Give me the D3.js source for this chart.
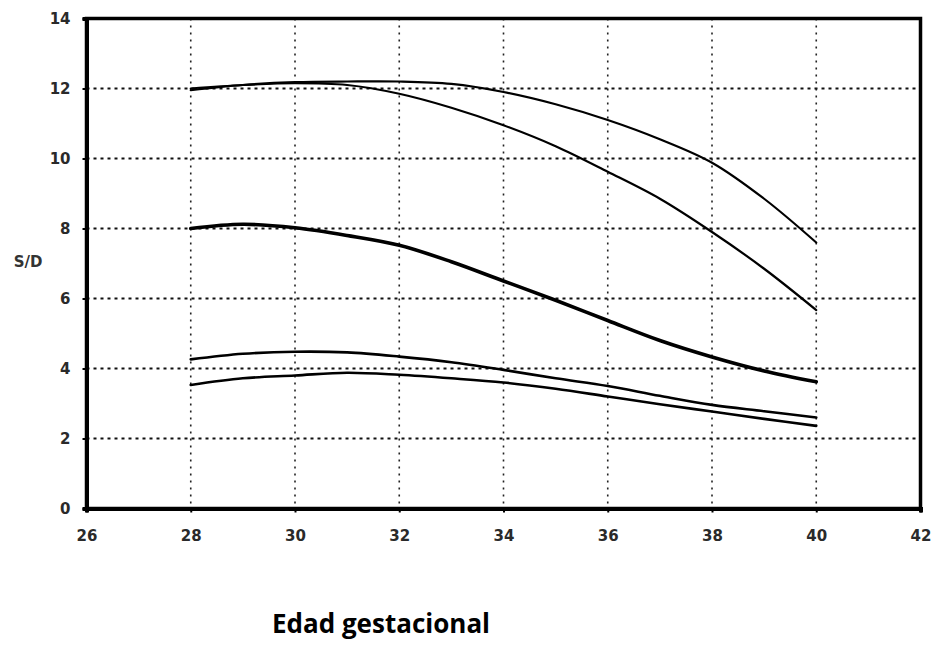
<!DOCTYPE html>
<html>
<head>
<meta charset="utf-8">
<script src="https://cdn.jsdelivr.net/npm/d3@7"></script>
<style>
  html, body { margin: 0; padding: 0; background: #fff; }
  svg { display: block; }
</style>
</head>
<body>
<script>
// Gestational age (weeks) and the S/D ratio reference curves
const weeks = [28, 29, 30, 31, 32, 33, 34, 35, 36, 37, 38, 39, 40];
const curveA = [11.95, 12.1, 12.18, 12.2, 12.2, 12.13, 11.9, 11.55, 11.1, 10.55, 9.88, 8.85, 7.6];
const curveB = [12.0, 12.1, 12.15, 12.1, 11.85, 11.45, 10.95, 10.35, 9.62, 8.85, 7.9, 6.85, 5.67];
const curveC = [8.0, 8.12, 8.02, 7.8, 7.52, 7.05, 6.5, 5.95, 5.37, 4.8, 4.33, 3.93, 3.62];
const curveD = [4.26, 4.42, 4.48, 4.46, 4.34, 4.18, 3.96, 3.72, 3.5, 3.22, 2.96, 2.78, 2.6];
const curveE = [3.53, 3.72, 3.8, 3.88, 3.82, 3.72, 3.6, 3.42, 3.2, 2.98, 2.77, 2.56, 2.36];

const xTicks = [26, 28, 30, 32, 34, 36, 38, 40, 42];
const yTicks = [0, 2, 4, 6, 8, 10, 12, 14];
const yLabel = "S/D";
const xLabel = "Edad gestacional";

const W = 935, H = 645;
const plotLeft = 86.5, plotRight = 920.5, plotTop = 18.5, plotBottom = 508.5;

const svg = d3.select("body").append("svg")
  .attr("width", W).attr("height", H);

const x = d3.scaleLinear().domain([26, 42]).range([plotLeft, plotRight]);
const y = d3.scaleLinear().domain([0, 14]).range([plotBottom, plotTop]);

// dotted grid
const grid = svg.append("g");
grid.selectAll("line.h")
  .data(yTicks.filter(v => v > 0 && v < 14))
  .join("line")
  .attr("x1", plotLeft).attr("x2", plotRight)
  .attr("y1", d => y(d)).attr("y2", d => y(d))
  .attr("stroke", "#111").attr("stroke-width", 2.2)
  .attr("stroke-dasharray", "3,4");
grid.selectAll("line.v")
  .data(xTicks.filter(v => v > 26 && v < 42))
  .join("line")
  .attr("x1", d => x(d)).attr("x2", d => x(d))
  .attr("y1", plotTop).attr("y2", plotBottom)
  .attr("stroke", "#222").attr("stroke-width", 1.6)
  .attr("stroke-dasharray", "2,5");

// curves
const line = d3.line()
  .x((d, i) => x(weeks[i]))
  .y(d => y(d))
  .curve(d3.curveCatmullRom.alpha(0.5));

const series = [
  { values: curveA, width: 2.2 },
  { values: curveB, width: 2.2 },
  { values: curveC, width: 3.6 },
  { values: curveD, width: 2.6 },
  { values: curveE, width: 2.6 }
];
svg.append("g").selectAll("path")
  .data(series)
  .join("path")
  .attr("d", d => line(d.values))
  .attr("fill", "none")
  .attr("stroke", "#000")
  .attr("stroke-width", d => d.width)
  .attr("stroke-linejoin", "round")
  .attr("stroke-linecap", "round");

// frame
svg.append("rect")
  .attr("x", plotLeft).attr("y", plotTop)
  .attr("width", plotRight - plotLeft).attr("height", plotBottom - plotTop)
  .attr("fill", "none").attr("stroke", "#000").attr("stroke-width", 3.5);

// axes
const tickFont = "'DejaVu Sans', sans-serif";
const xAxis = svg.append("g")
  .attr("transform", `translate(0,${plotBottom})`)
  .call(d3.axisBottom(x).tickValues(xTicks).tickSize(4).tickPadding(18));
const yAxis = svg.append("g")
  .attr("transform", `translate(${plotLeft},0)`)
  .call(d3.axisLeft(y).tickValues(yTicks).tickSize(4).tickPadding(12));

[xAxis, yAxis].forEach(g => {
  g.select(".domain").attr("stroke-width", 4);
  g.selectAll(".tick line").attr("stroke-width", 2);
  g.selectAll(".tick text")
    .attr("font-family", tickFont)
    .attr("font-weight", "bold")
    .attr("font-size", 15)
    .attr("fill", "#2a2a2a");
});

svg.append("text")
  .attr("x", 28).attr("y", 262)
  .attr("text-anchor", "middle")
  .attr("dominant-baseline", "middle")
  .attr("font-family", tickFont)
  .attr("font-weight", "bold")
  .attr("font-size", 15)
  .attr("fill", "#333")
  .text(yLabel);

svg.append("text")
  .attr("x", 272).attr("y", 633)
  .attr("font-family", "'Open Sans', sans-serif")
  .attr("font-weight", "bold")
  .attr("font-size", 26)
  .attr("fill", "#000")
  .text(xLabel);
</script>
</body>
</html>
